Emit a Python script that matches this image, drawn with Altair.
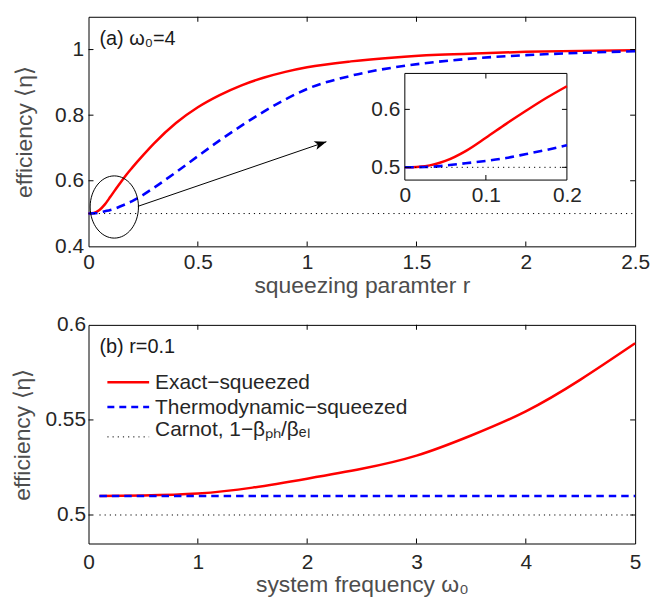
import altair as alt
import pandas as pd

FONT = "Liberation Sans"

# ---------------- data ----------------
# Panel (a): omega0 = 4, efficiency vs squeezing parameter r
r_vals = [0, 0.025, 0.05, 0.075, 0.1, 0.125, 0.15, 0.175, 0.2, 0.25, 0.3, 0.4, 0.5,
          0.6, 0.7, 0.8, 0.9, 1.0, 1.2, 1.4, 1.6, 1.8, 2.0, 2.25, 2.5]
eta_exact_a = [0.5, 0.502, 0.511, 0.528, 0.551, 0.575, 0.598, 0.620, 0.640, 0.678,
               0.714, 0.776, 0.824, 0.861, 0.891, 0.914, 0.932, 0.946, 0.964, 0.976,
               0.984, 0.989, 0.993, 0.996, 0.998]
eta_thermo_a = [0.5, 0.5005, 0.503, 0.507, 0.511, 0.516, 0.523, 0.530, 0.538, 0.557,
                0.579, 0.626, 0.675, 0.723, 0.768, 0.81, 0.848, 0.88, 0.92, 0.946,
                0.963, 0.975, 0.983, 0.99, 0.995]
carnot_r = [0, 2.5]
carnot_a = [0.5, 0.5]

# Panel (b): r = 0.1, efficiency vs system frequency omega0
omega_vals = [0.1, 0.5, 1.0, 1.5, 2.0, 2.5, 3.0, 3.5, 4.0, 4.5, 5.0]
eta_exact_b = [0.5100, 0.5103, 0.5113, 0.5144, 0.5191, 0.5243, 0.5312, 0.5418,
               0.5545, 0.5712, 0.5903]
eta_thermo_b = [0.51] * len(omega_vals)
carnot_omega = [0.1, 5.0]
carnot_b = [0.5, 0.5]

legend_labels = ["Exact\u2212squeezed", "Thermodynamic\u2212squeezed",
                 "Carnot, 1\u2212\u03b2\u209a\u2095/\u03b2\u2091\u2097"]
panel_a_label = "(a) \u03c9\u2080=4"
panel_b_label = "(b) r=0.1"

# axis domains / ticks
xa_dom, ya_dom = [0, 2.5], [0.4, 1.1]
xa_ticks, ya_ticks = [0, 0.5, 1, 1.5, 2, 2.5], [0.4, 0.6, 0.8, 1]
xi_dom, yi_dom = [0, 0.2], [0.478, 0.662]
xi_ticks, yi_ticks = [0, 0.1, 0.2], [0.5, 0.6]
xb_dom, yb_dom = [0, 5], [0.485, 0.6]
xb_ticks, yb_ticks = [0, 1, 2, 3, 4, 5], [0.5, 0.55, 0.6]

# annotation (ellipse around origin region, arrow to inset)
ell_center = (0.118, 0.52)
arrow_from = (0.226, 0.522)
arrow_to = (1.088, 0.719)

# ---------------- layout ----------------
W = 550
H1, H2 = 231, 220
RED, BLUE = "#ff0000", "#0000ff"
DASH = [9, 5.5]
DOT = [1.2, 4]

# inset placement as fractions of panel (a) plot area
ix0, ix1 = 0.5787 * W, 0.8752 * W
iy_top, iy_bot = 0.2468 * H1, 0.7113 * H1


def df_xy(xs, ys):
    return pd.DataFrame({"x": xs, "y": ys})


def enc(sx, sy, ax, ay):
    return dict(x=alt.X("x:Q", scale=sx, axis=ax),
                y=alt.Y("y:Q", scale=sy, axis=ay))


def line(df, color, dash, width, e, interp="monotone"):
    kw = dict(color=color, strokeWidth=width, interpolate=interp)
    if dash is not None:
        kw["strokeDash"] = dash
    return alt.Chart(df).mark_line(**kw).encode(**e)


def inward_ticks(xt, yt, xd, yd, e, L=5):
    layers = []
    for yv, off in ((yd[0], -L / 2), (yd[1], L / 2)):
        layers.append(alt.Chart(df_xy(xt, [yv] * len(xt))).mark_tick(
            orient="vertical", size=L, thickness=1, color="black", yOffset=off,
            opacity=1).encode(**e))
    for xv, off in ((xd[0], L / 2), (xd[1], -L / 2)):
        layers.append(alt.Chart(df_xy([xv] * len(yt), yt)).mark_tick(
            orient="horizontal", size=L, thickness=1, color="black", xOffset=off,
            opacity=1).encode(**e))
    return layers


def axis(**kw):
    base = dict(format="~g", ticks=False, tickSize=0, domain=False, grid=False,
                labelFlush=False, labelOverlap=False)
    base.update(kw)
    return alt.Axis(**base)


# ---------------- panel (a) ----------------
sx_a = alt.Scale(domain=xa_dom, nice=False, zero=False)
sy_a = alt.Scale(domain=ya_dom, nice=False, zero=False)
ax_xa = axis(values=xa_ticks, title="squeezing paramter r", labelPadding=5.5,
             titleY=46, titleBaseline="alphabetic")
ax_ya = axis(values=ya_ticks, title="efficiency \u27e8\u03b7\u27e9", labelPadding=5,
             titleX=-57, titleY=H1 / 2, titleAngle=270, titleBaseline="alphabetic",
             titleAlign="center")
e_a = enc(sx_a, sy_a, ax_xa, ax_ya)

k = 0.5523
a = 24.3 / 31.3
ell_path = (f"M {a} 0 C {a} {k}, {a*k} 1, 0 1 C {-a*k} 1, {-a} {k}, {-a} 0 "
            f"C {-a} {-k}, {-a*k} -1, 0 -1 C {a*k} -1, {a} {-k}, {a} 0 Z")
arrow_path = "M 0 0 L -2 -0.75 L -1.5 0 L -2 0.75 Z"

ellipse = alt.Chart(df_xy([ell_center[0]], [ell_center[1]])).mark_point(
    shape=ell_path, size=62.6 ** 2, filled=False, stroke="black", strokeWidth=1,
    opacity=1).encode(**e_a)
arrow_df = pd.DataFrame({"x": [arrow_from[0]], "y": [arrow_from[1]],
                         "x2": [arrow_to[0]], "y2": [arrow_to[1]]})
arrow_line = alt.Chart(arrow_df).mark_rule(color="black", strokeWidth=1).encode(
    x2="x2:Q", y2="y2:Q", **e_a)
arrow_head = alt.Chart(df_xy([arrow_to[0]], [arrow_to[1]])).mark_point(
    shape=arrow_path, size=144, filled=True, color="black", opacity=1,
    angle=341.2).encode(**e_a)

label_a = alt.Chart(pd.DataFrame({"t": [panel_a_label]})).mark_text(
    align="left", baseline="alphabetic", fontSize=20, font=FONT, color="#1a1a1a"
).encode(text="t:N", x=alt.value(11), y=alt.value(28))

main_a = alt.layer(
    line(df_xy(r_vals, eta_exact_a), RED, None, 2.5, e_a),
    line(df_xy(r_vals, eta_thermo_a), BLUE, DASH, 2.6, e_a),
    line(df_xy(carnot_r, carnot_a), "black", DOT, 1, e_a),
    ellipse, arrow_line, arrow_head,
    *inward_ticks([0.5, 1, 1.5, 2], [0.6, 0.8, 1.0], xa_dom, ya_dom, e_a),
    label_a,
)

# inset
sx_i = alt.Scale(domain=xi_dom, range=[ix0, ix1], nice=False, zero=False)
sy_i = alt.Scale(domain=yi_dom, range=[iy_bot, iy_top], nice=False, zero=False)
ax_xi = axis(values=xi_ticks, orient="bottom", offset=-(H1 - iy_bot), labelPadding=5,
             title=None)
ax_yi = axis(values=yi_ticks, orient="left", offset=-ix0, labelPadding=5, title=None)
e_i = enc(sx_i, sy_i, ax_xi, ax_yi)

n_in = sum(1 for r in r_vals if r <= xi_dom[1])
inset_box = pd.DataFrame({"x": [xi_dom[0]], "x2": [xi_dom[1]],
                          "y": [yi_dom[0]], "y2": [yi_dom[1]]})
inset_bg = alt.Chart(inset_box).mark_rect(fill="white", stroke="black",
                                          strokeWidth=1).encode(
    x2="x2:Q", y2="y2:Q", **e_i)
inset = alt.layer(
    inset_bg,
    line(df_xy(r_vals[:n_in], eta_exact_a[:n_in]), RED, None, 2.5, e_i),
    line(df_xy(r_vals[:n_in], eta_thermo_a[:n_in]), BLUE, DASH, 2.6, e_i),
    line(df_xy([0, 0.2], [0.5, 0.5]), "black", DOT, 1, e_i),
    *inward_ticks([0.1], yi_ticks, xi_dom, yi_dom, e_i),
)

panel_a = alt.layer(main_a, inset).resolve_scale(
    x="independent", y="independent").properties(width=W, height=H1)

# ---------------- panel (b) ----------------
sx_b = alt.Scale(domain=xb_dom, nice=False, zero=False)
sy_b = alt.Scale(domain=yb_dom, nice=False, zero=False)
ax_xb = axis(values=xb_ticks, title="system frequency \u03c9\u2080", labelPadding=8,
             titleY=48, titleBaseline="alphabetic")
ax_yb = axis(values=yb_ticks, title="efficiency \u27e8\u03b7\u27e9", labelPadding=3,
             titleX=-59, titleY=H2 / 2, titleAngle=270, titleBaseline="alphabetic",
             titleAlign="center")
e_b = enc(sx_b, sy_b, ax_xb, ax_yb)

label_b = alt.Chart(pd.DataFrame({"t": [panel_b_label]})).mark_text(
    align="left", baseline="alphabetic", fontSize=20, font=FONT, color="#1a1a1a"
).encode(text="t:N", x=alt.value(11), y=alt.value(28))

leg_styles = [(RED, None, 2.5), (BLUE, [7, 5], 2.6), ("black", DOT, 1)]
leg_line_y = [57.7, 82.7, 112.7]
leg_text_y = [64.5, 89.5, 111.5]
legend_layers = []
for lab, (col, dash, wdt), ly, ty in zip(legend_labels, leg_styles, leg_line_y, leg_text_y):
    kw = dict(color=col, strokeWidth=wdt)
    if dash is not None:
        kw["strokeDash"] = dash
    legend_layers.append(alt.Chart(pd.DataFrame({"t": [lab]})).mark_rule(**kw).encode(
        x=alt.value(19), x2=alt.value(61), y=alt.value(ly)))
    legend_layers.append(alt.Chart(pd.DataFrame({"t": [lab]})).mark_text(
        align="left", baseline="alphabetic", fontSize=21, font=FONT, color="#262626"
    ).encode(text="t:N", x=alt.value(67), y=alt.value(ty)))

panel_b = alt.layer(
    line(df_xy(omega_vals, eta_exact_b), RED, None, 2.5, e_b, "natural"),
    line(df_xy(omega_vals, eta_thermo_b), BLUE, [7.5, 5], 2.6, e_b),
    line(df_xy(carnot_omega, carnot_b), "black", DOT, 1, e_b),
    *inward_ticks([1, 2, 3, 4], [0.5, 0.55], xb_dom, yb_dom, e_b),
    label_b,
    *legend_layers,
).properties(width=W, height=H2)

chart = alt.vconcat(panel_a, panel_b, spacing=15).properties(
    padding={"left": 3, "top": 6, "right": 5, "bottom": 0}
).configure_view(stroke="black", strokeWidth=1).configure_axis(
    labelFont=FONT, titleFont=FONT, labelFontSize=21, titleFontSize=23,
    labelColor="#262626", titleColor="#4d4d4d", titleFontWeight="normal"
)

chart.save("out.html", embed_options={"renderer": "svg", "actions": False})
